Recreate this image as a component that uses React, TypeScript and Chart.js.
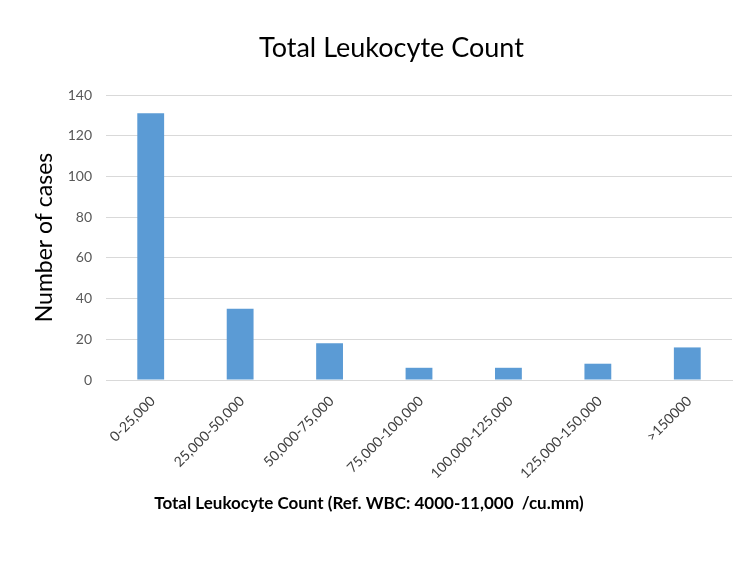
import React, { useEffect, useRef } from "react";
import { Chart, registerables } from "chart.js";

Chart.register(...registerables);

const categories = [
  "0-25,000",
  "25,000-50,000",
  "50,000-75,000",
  "75,000-100,000",
  "100,000-125,000",
  "125,000-150,000",
  ">150000",
];
const cases = [131, 35, 18, 6, 6, 8, 16];
const yTicks = [0, 20, 40, 60, 80, 100, 120, 140];

const chartTitle = "Total Leukocyte Count";
const yTitle = "Number of cases";
const xTitle = "Total Leukocyte Count (Ref. WBC: 4000-11,000  /cu.mm)";

const FONT = "Lato, 'Open Sans', sans-serif";

// Chart heading and the caption under the category labels, placed relative to the plot area
const captions = {
  id: "captions",
  afterDraw(chart: any) {
    const { ctx, chartArea } = chart;
    const w = chartArea.right - chartArea.left;
    ctx.save();
    ctx.fillStyle = "#000000";
    ctx.textAlign = "center";
    ctx.textBaseline = "middle";
    ctx.font = `27px ${FONT}`;
    ctx.fillText(chartTitle, chartArea.left + w * 0.456, 48);
    ctx.font = `bold 17px ${FONT}`;
    ctx.fillText(xTitle, chartArea.left + w * 0.42, 504);
    ctx.restore();
  },
};

export default function App() {
  const ref = useRef<HTMLCanvasElement | null>(null);

  useEffect(() => {
    if (!ref.current) return;
    const chart = new Chart(ref.current, {
      type: "bar",
      data: {
        labels: categories,
        datasets: [
          {
            data: cases,
            backgroundColor: "#5b9bd5",
            borderWidth: 0,
            barPercentage: 0.3,
            categoryPercentage: 1,
          },
        ],
      },
      options: {
        animation: false,
        responsive: false,
        maintainAspectRatio: false,
        layout: { padding: { left: 24, right: 18, top: 95, bottom: 30 } },
        plugins: {
          legend: { display: false },
          tooltip: { enabled: false },
          title: { display: false },
        },
        scales: {
          x: {
            grid: { display: false, drawTicks: false },
            border: { display: true, color: "#d9d9d9" },
            ticks: {
              color: "#404040",
              font: { family: FONT, size: 14 },
              minRotation: 45,
              maxRotation: 45,
              padding: 13,
              labelOffset: 2,
              autoSkip: false,
            },
            afterFit(scale: any) {
              scale.height = 563 - 380 - 30;
            },
          },
          y: {
            min: 0,
            max: 140,
            afterBuildTicks(scale: any) {
              scale.ticks = yTicks.map((v) => ({ value: v }));
            },
            grid: { color: "#d9d9d9", drawTicks: false },
            border: { display: false },
            ticks: {
              color: "#595959",
              font: { family: FONT, size: 14 },
              padding: 14,
            },
            title: {
              display: true,
              text: yTitle,
              color: "#000000",
              font: { family: FONT, size: 23, weight: "normal" },
              padding: { top: 7, bottom: 0 },
            },
            afterFit(scale: any) {
              scale.width = 106 - 24;
            },
          },
        },
      },
      plugins: [captions],
    });
    return () => chart.destroy();
  }, []);

  return (
    <div style={{ position: "absolute", left: 0, top: 0, width: 750, height: 563, background: "#ffffff" }}>
      <canvas ref={ref} width={750} height={563} />
    </div>
  );
}
